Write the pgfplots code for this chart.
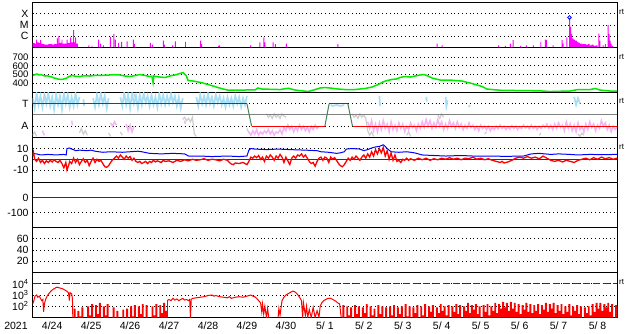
\documentclass[border=0pt]{standalone}
\usepackage{pgfplots}
\pgfplotsset{compat=1.18}
\usepackage{fontspec}
\setmainfont{Liberation Sans}
\definecolor{xmag}{RGB}{255,0,255}
\definecolor{swgreen}{RGB}{0,235,0}
\definecolor{ltblue}{RGB}{165,222,245}
\definecolor{ltpink}{RGB}{245,180,245}
\definecolor{ltgray}{RGB}{205,205,205}
\definecolor{secgreen}{RGB}{70,130,90}
\definecolor{secblue}{RGB}{40,40,255}
\definecolor{dkred}{RGB}{170,0,0}
\pgfplotsset{
 panel/.style={
  scale only axis, width=584.3pt, height=45pt, anchor=north west,
  xmin=0, xmax=15, xtick=\empty, minor xtick={1,...,14}, xminorgrids, ymajorgrids,
  major tick length=0pt, minor tick length=0pt,
  axis line style={black, line width=0.9pt},
  grid style={black, line width=0.9pt, dash pattern=on 0.9pt off 2.9pt},
  minor grid style={black, line width=0.9pt, dash pattern=on 0.9pt off 2.9pt},
  tick label style={font=\fontsize{10.5}{12}\selectfont},
  yticklabel style={inner sep=0pt, xshift=-4pt},
  unbounded coords=jump,
 }
}
\begin{document}
\begin{tikzpicture}
\useasboundingbox (0,0) rectangle (633pt,-334pt);
% Panel 1: X-ray
\begin{axis}[panel, at={(32.7pt,-2.5pt)}, ymin=0, ymax=4, ytick={1,2,3}, yticklabels={C,M,X}]
\addplot[xmag, fill=xmag, const plot, draw=none] coordinates {
(0,0.4)(0.05,0.35)(0.085,0.7)(0.11,0.45)(0.15,0.4)(0.19,0.65)(0.215,0.35)(0.25,0.3)(0.3,0.25)(0.4,0.3)(0.5,0.25)(0.55,0.3)(0.62,0.8)(0.645,0.35)(0.66,1.0)(0.685,0.4)(0.74,0.7)(0.765,0.35)(0.87,0.7)(0.895,0.4)(0.96,0.9)(0.985,0.45)(1.04,1.54)(1.065,0.45)(1.09,0.9)(1.115,0.35)(1.13,0.35)(1.16,0)
(1.43,0.2)(1.455,0)(1.51,0.15)(1.535,0)(1.68,0.7)(1.705,0)(1.73,0.35)(1.755,0)(1.8,0.2)(1.825,0)(1.98,0.95)(2.005,0)(2.07,1.2)(2.095,0)(2.11,0.7)(2.135,0)(2.19,0.4)(2.215,0)(2.27,0.5)(2.295,0)(2.41,0.55)(2.435,0)(2.57,0.7)(2.595,0.3)(2.62,0)
(3.01,0.4)(3.035,0)(3.06,0.25)(3.085,0)(3.34,0.6)(3.365,0.25)(3.39,0)(3.58,0.2)(3.605,0)(3.65,0.55)(3.675,0)(3.91,0.5)(3.935,0)(4.3,0.6)(4.325,0.3)(4.35,0)(4.76,0.15)(4.785,0.2)(4.81,0)
(5.58,0.2)(5.605,0)(5.82,0.45)(5.845,0)(5.92,0.9)(5.945,0.45)(5.97,0)(6.16,0.45)(6.185,0)(6.22,0.3)(6.245,0)(6.5,0.35)(6.525,0)(7.82,0.3)(7.845,0)
(10.37,0.35)(10.395,0)(10.5,0.2)(10.525,0)(11.95,0.2)(11.975,0)(12.12,0.15)(12.145,0)(12.25,0.35)(12.275,0)(12.32,0.65)(12.345,0)(12.51,0.15)(12.535,0)(12.66,0.2)(12.685,0)(12.84,0.2)(12.865,0)
(13.03,0.5)(13.055,0)(13.15,0.7)(13.175,0.65)(13.2,0)(13.35,0.2)(13.375,0)(13.58,0.65)(13.605,0.35)(13.63,0)(13.7,0.9)(13.725,0)
(13.77,2.58)(13.795,1.83)(13.82,1.2)(13.85,0.8)(13.88,0.7)(13.92,0.6)(13.97,0.5)(14.01,0.4)(14.05,0.35)(14.1,0.3)(14.15,0.3)(14.2,0.25)(14.25,0.3)(14.3,0.2)(14.35,0.25)(14.4,0.15)(14.45,0.2)(14.5,0)
(14.52,1.24)(14.545,0.6)(14.57,0)(14.63,0.2)(14.655,0)(14.69,0.3)(14.715,0)(14.76,1.98)(14.785,1.2)(14.81,0.6)(14.835,0.35)(14.86,0.15)(14.9,0)(15,0)} \closedcycle;
\addplot[blue, only marks, mark=o, mark size=1.8pt, mark options={line width=0.8pt}] coordinates {(13.78,2.67)};
\end{axis}
% Panel 2: solar wind speed
\begin{axis}[panel, at={(32.7pt,-47.5pt)}, ymin=293, ymax=812, ytick={400,500,600,700}, yticklabels={400,500,600,700},
  yticklabel style={font=\fontsize{9.5}{10}\selectfont}]
\addplot[swgreen, line width=1.5pt] coordinates {
(0.01,489)(0.06,500)(0.11,506)(0.16,495)(0.21,500)(0.27,490)(0.32,483)(0.38,485)(0.44,477)(0.5,470)(0.55,460)(0.6,455)(0.65,448)(0.7,445)(0.75,443)(0.8,450)(0.85,454)(0.93,477)(1.01,489)(1.1,480)(1.21,477)(1.3,485)(1.47,483)(1.6,490)(1.73,489)(1.85,492)(1.98,495)(2.1,498)(2.24,495)(2.37,483)(2.5,477)(2.63,489)(2.75,500)(2.88,489)(3.01,477)(3.06,480)(3.09,408)(3.11,483)(3.2,475)(3.27,471)(3.4,466)(3.52,483)(3.65,495)(3.78,512)(3.86,523)(3.94,489)(3.99,431)(4.12,425)(4.25,414)(4.37,402)(4.5,385)(4.63,368)(4.76,350)(4.89,333)(5.01,321)(5.32,321)(5.71,323)(5.78,345)(5.89,333)(6.09,330)(6.35,327)(6.56,342)(6.74,321)(6.86,315)(7.07,304)(7.25,327)(7.38,345)(7.5,350)(7.63,345)(7.84,333)(8.02,327)(8.27,327)(8.53,339)(8.71,356)(8.87,385)(8.99,414)(9.1,431)(9.22,443)(9.33,448)(9.43,466)(9.56,477)(9.69,471)(9.82,483)(9.94,495)(10.05,500)(10.15,483)(10.25,460)(10.46,437)(10.71,437)(10.85,431)(11.02,425)(11.23,402)(11.41,379)(11.54,362)(11.66,333)(11.79,327)(12.0,319)(12.51,315)(13.02,312)(13.28,304)(13.79,310)(14.0,327)(14.31,327)(14.44,339)(14.57,321)(14.82,310)(15.0,308)};
\end{axis}
% Panel 3: IMF sector
\begin{axis}[panel, at={(32.7pt,-92.5pt)}, ymin=-2, ymax=2, ytick={-1,1}, yticklabels={A,T}]
\addplot[ltblue, line width=1.7pt] coordinates {
(0,1.5)(0.05,0.6)(0.1,1.9)(0.15,0.9)(0.2,1.7)(0.25,0.7)(0.3,1.8)(0.35,1.0)(0.4,1.95)(0.45,0.8)(0.5,1.6)(0.55,0.5)(0.6,1.8)(0.65,0.9)(0.7,1.7)(0.75,0.5)(0.8,1.9)(0.85,1.0)(0.9,1.8)(0.95,0.7)(1.0,1.6)(1.05,0.8)(1.1,1.9)(1.15,0.9)(1.2,1.6)(1.22,nan)
(1.3,1.4)(1.32,0.8)(1.34,nan)
(1.55,1.5)(1.6,0.7)(1.65,1.8)(1.7,0.9)(1.75,1.9)(1.8,1.0)(1.85,1.7)(1.9,0.6)(1.95,1.5)(1.97,nan)
(2.25,1.6)(2.3,0.8)(2.35,1.95)(2.4,0.9)(2.45,1.8)(2.5,0.6)(2.55,1.9)(2.6,1.0)(2.65,1.7)(2.7,0.6)(2.75,1.8)(2.8,0.9)(2.85,1.9)(2.9,1.1)(2.95,1.7)(3.0,0.8)(3.05,1.8)(3.1,0.9)(3.15,1.6)(3.2,0.7)(3.25,1.9)(3.3,1.0)(3.35,1.8)(3.4,0.9)(3.45,1.7)(3.5,1.0)(3.55,1.9)(3.6,1.1)(3.65,1.7)(3.7,0.8)(3.75,1.6)(3.8,0.6)(3.85,1.5)(3.87,nan)
(4.2,1.6)(4.25,0.8)(4.3,1.8)(4.35,1.0)(4.4,1.7)(4.45,0.9)(4.5,1.9)(4.55,1.0)(4.6,1.6)(4.65,0.8)(4.7,1.8)(4.75,1.1)(4.8,1.7)(4.85,0.9)(4.9,1.5)(4.95,0.7)(5.0,1.6)(5.05,0.9)(5.1,1.5)(5.15,0.8)(5.2,1.7)(5.25,1.0)(5.3,1.6)(5.35,0.7)(5.4,1.5)(5.45,0.9)(5.5,1.7)(5.52,nan)
(7.65,0.9)(7.7,0.8)(7.8,0.9)(7.9,0.8)(8.0,0.9)(8.02,nan)(8.9,1.7)(8.92,0.8)(8.94,nan)(10.1,1.6)(10.12,1.2)(10.14,nan)(10.6,1.6)(10.62,0.8)(10.65,1.3)(10.67,nan)(11.2,0.7)(11.22,0.9)(11.24,nan)(13.9,1.6)(13.95,0.9)(14.0,1.5)(14.05,1.0)};
\addplot[ltgray, line width=1.2pt] coordinates {
(0.0,-1.8)(0.05,-1.5)(0.1,-1.9)(0.12,nan)(0.3,1.9)(0.32,1.6)(0.34,nan)(1.2,-1.6)(1.25,-1.2)(1.3,-1.7)(1.35,-1.4)(1.4,-1.8)(1.42,nan)(1.95,-1.6)(2.0,-1.9)(2.02,nan)(2.25,-1.5)(2.3,-1.8)(2.32,nan)(2.6,1.9)(2.62,1.6)(2.64,nan)
(3.85,-0.4)(3.9,-0.2)(3.95,-0.5)(4.0,-0.3)(4.05,-0.6)(4.1,-0.2)(4.15,-1.7)(4.2,-1.9)(4.22,nan)(5.5,-1.2)(5.55,-1.6)(5.57,nan)
(6.0,0.1)(6.05,-0.2)(6.1,0.0)(6.15,-0.3)(6.2,0.1)(6.25,-0.2)(6.3,0.0)(6.35,-0.3)(6.4,0.1)(6.45,-0.1)(6.5,-0.2)(6.52,nan)
(8.2,0.1)(8.25,-0.2)(8.3,0.0)(8.35,-0.3)(8.4,0.1)(8.45,-0.2)(8.5,0.0)(8.55,-0.3)(8.6,-1.4)(8.65,-1.8)(8.7,-1.5)(8.75,-1.9)(8.77,nan)
(9.6,-1.8)(9.65,-1.5)(9.7,-1.9)(9.72,nan)(10.4,0.0)(10.45,-0.3)(10.5,0.1)(10.55,-0.2)(10.57,nan)(11.6,-1.7)(11.65,-1.5)(11.67,nan)(13.0,-1.8)(13.05,-1.6)(13.07,nan)(14.0,-1.7)(14.05,-1.9)(14.1,-1.6)(14.15,-1.8)};
\addplot[ltpink, line width=1.5pt] coordinates {
(0.25,-1.4)(0.3,-1.8)(0.32,nan)(1.0,-0.5)(1.02,-0.9)(1.04,nan)(2.0,-0.7)(2.05,-1.0)(2.1,-0.6)(2.15,-0.9)(2.17,nan)(2.4,-0.8)(2.45,-1.4)(2.5,-0.9)(2.55,-1.5)(2.6,-1.0)(2.62,nan)(3.9,-0.5)(3.92,-0.8)(3.94,nan)
(5.55,-1.5)(5.6,-1.8)(5.65,-1.4)(5.7,-1.7)(5.75,-1.3)(5.8,-1.8)(5.85,-1.5)(5.9,-1.7)(5.95,-1.4)(6.0,-1.6)(6.05,-1.3)(6.1,-1.7)(6.15,-1.4)(6.2,-1.8)(6.25,-1.5)(6.3,-1.6)(6.35,-1.3)(6.4,-1.7)(6.45,-1.1)(6.5,-1.4)(6.55,-0.9)(6.6,-1.3)(6.65,-1.0)(6.7,-1.5)(6.75,-1.1)(6.8,-1.4)(6.85,-0.9)(6.9,-1.3)(6.95,-1.0)(7.0,-1.4)(7.05,-1.1)(7.1,-1.5)(7.15,-1.0)(7.2,-1.3)(7.25,-0.9)(7.3,-1.2)(7.35,-1.0)(7.37,nan)
(8.6,-0.6)(8.65,-1.2)(8.7,-0.5)(8.75,-1.4)(8.8,-0.8)(8.85,-1.5)(8.9,-0.7)(8.95,-1.3)(9.0,-0.5)(9.05,-1.2)(9.1,-0.8)(9.15,-1.5)(9.2,-0.6)(9.25,-1.3)(9.3,-0.9)(9.35,-1.4)(9.4,-0.7)(9.45,-1.2)(9.5,-0.8)(9.55,-1.5)(9.6,-1.0)(9.65,-1.3)(9.7,-0.7)(9.75,-1.1)(9.8,-0.9)(9.85,-1.4)(9.9,-0.8)(9.95,-1.2)(10.0,-0.6)(10.05,-1.1)(10.1,-0.4)(10.15,-1.0)(10.2,-0.5)(10.25,-1.2)(10.3,-0.7)(10.35,-1.1)(10.4,-0.4)(10.45,-1.0)(10.5,-0.6)(10.55,-1.3)(10.6,-0.8)(10.65,-1.2)(10.7,-0.5)(10.75,-1.0)(10.8,-0.7)(10.85,-1.2)(10.9,-0.6)(10.95,-1.1)(11.0,-0.8)(11.05,-1.3)(11.1,-0.9)(11.15,-1.2)(11.2,-0.7)(11.25,-1.1)(11.3,-0.9)(11.35,-1.3)(11.4,-1.0)(11.45,-1.4)(11.5,-0.9)(11.55,-1.2)(11.6,-1.0)(11.65,-1.3)(11.7,-1.0)(11.75,-1.4)(11.8,-1.1)(11.85,-1.3)(11.9,-1.0)(11.95,-1.25)(12.0,-0.9)(12.05,-1.2)(12.1,-1.0)(12.15,-1.3)(12.2,-1.05)(12.25,-1.25)(12.3,-0.95)(12.35,-1.2)(12.4,-1.0)(12.45,-1.3)(12.5,-1.05)(12.55,-1.2)(12.6,-0.9)(12.65,-1.15)(12.7,-1.0)(12.75,-1.25)(12.8,-0.9)(12.85,-1.2)(12.9,-1.0)(12.95,-1.3)(13.0,-1.0)(13.05,-1.2)(13.1,-0.9)(13.15,-1.1)(13.2,-0.8)(13.25,-1.2)(13.3,-0.9)(13.35,-1.3)(13.4,-0.8)(13.45,-1.2)(13.5,-0.7)(13.55,-1.1)(13.6,-0.9)(13.65,-1.4)(13.7,-0.6)(13.75,-1.2)(13.8,-0.8)(13.85,-1.4)(13.9,-0.9)(13.95,-1.5)(14.0,-0.7)(14.05,-1.3)(14.1,-1.0)(14.15,-1.5)(14.2,-0.8)(14.25,-1.3)(14.3,-0.6)(14.35,-1.1)(14.4,-0.8)(14.45,-1.4)(14.5,-0.9)(14.55,-1.2)(14.6,-0.5)(14.65,-1.0)(14.7,-0.7)(14.75,-1.3)(14.8,-0.9)(14.85,-1.5)(14.9,-1.0)(14.95,-1.3)(15.0,-1.1)};
\addplot[gray, line width=1pt] coordinates {(0,0)(15,0)};
\addplot[secblue, line width=1pt] coordinates {(0,1)(5.50,1)};
\addplot[secgreen, line width=1pt] coordinates {(5.50,1)(5.62,-1)};
\addplot[red, line width=1pt] coordinates {(5.62,-1)(7.50,-1)};
\addplot[secgreen, line width=1pt] coordinates {(7.50,-1)(7.61,1)};
\addplot[secblue, line width=1pt] coordinates {(7.61,1)(8.09,1)};
\addplot[secgreen, line width=1pt] coordinates {(8.09,1)(8.21,-1)};
\addplot[red, line width=1pt] coordinates {(8.21,-1)(15,-1)};
\end{axis}
% Panel 4: Bz / Bt
\begin{axis}[panel, at={(32.7pt,-137.5pt)}, ymin=-21.7, ymax=20.3, ytick={-10,0,10}, yticklabels={-10,0,10}]
\addplot[dkred, line width=0.9pt] coordinates {(0,0)(15,0)};
\addplot[blue, line width=1pt] coordinates {
(0,5.3)(0.1,5)(0.2,4)(0.4,4.5)(0.6,4)(0.8,4.5)(0.86,4)(0.88,10)(0.95,10.5)(1.0,9.5)(1.05,9)(1.1,8)(1.2,8.5)(1.4,8)(1.5,8.5)(1.6,7.5)(1.7,7)(1.8,6.5)(2.0,7)(2.3,6.5)(2.5,7)(2.7,7.5)(2.8,7)(3.0,5.5)(3.3,5)(3.6,5.5)(3.9,5)(4.0,3)(4.3,3)(4.6,2.5)(5.0,3)(5.3,2.5)(5.5,3)(5.55,8.5)(5.6,10)(5.7,9.5)(6.0,9)(6.3,9.5)(6.6,9)(7.0,8.5)(7.3,8)(7.4,7)(7.6,6.5)(7.8,5.5)(7.9,6)(8.0,7)(8.05,9.5)(8.2,10)(8.4,9.5)(8.5,8)(8.6,9)(8.7,10.5)(8.8,11.5)(8.9,12)(9.0,13.5)(9.05,12)(9.1,10)(9.2,7)(9.4,6.5)(9.6,7)(9.8,6)(10.0,4)(10.3,3.5)(10.6,3)(11.0,3.5)(11.3,3)(11.6,3)(12.0,2.8)(12.3,2.8)(12.6,3)(12.8,5)(13.0,5.5)(13.3,4.5)(13.5,5)(13.8,4.5)(14.0,4)(14.3,4.5)(14.6,4.3)(15,4.5)};
\addplot[red, line width=1.3pt] coordinates {
(0.00,3)(0.02,6.5)(0.05,0)(0.1,-2)(0.15,1)(0.2,-3)(0.25,-1)(0.3,-4)(0.35,-1.5)(0.4,-3)(0.45,-1)(0.5,-2.5)(0.55,-0.5)(0.6,-2)(0.65,-3)(0.7,-1)(0.75,-4)(0.8,-8)(0.85,-3)(0.88,-10)(0.92,-6)(0.95,-2)(1.0,-4)(1.05,1)(1.1,-3)(1.15,0)(1.2,-5)(1.25,-2)(1.3,0.5)(1.35,-3)(1.4,-1)(1.45,-6)(1.5,-2)(1.55,1)(1.6,-3)(1.65,0)(1.7,-2)(1.75,-1)(1.8,-4)(1.85,-7)(1.9,-7.5)(1.95,-6)(2.0,-3)(2.05,-0.5)(2.1,1)(2.15,3)(2.2,1)(2.25,4)(2.3,2)(2.35,0)(2.4,3)(2.45,1)(2.5,2.5)(2.55,-1)(2.6,1)(2.65,-2)(2.7,-3)(2.75,-2)(2.8,-4)(2.85,-3)(2.9,-2)(2.95,-4)(3.0,-2)(3.05,-3)(3.1,-1)(3.15,-2.5)(3.2,-1.5)(3.3,-3)(3.35,-1)(3.4,-2)(3.5,-1.5)(3.6,-3)(3.7,-1)(3.8,-2)(3.9,-0.5)(4.0,-1.5)(4.1,0)(4.2,-1)(4.3,-0.5)(4.4,0.5)(4.5,-1)(4.6,0)(4.7,-0.5)(4.8,-1.5)(4.9,0)(5.0,-1)(5.05,-3)(5.1,-4.5)(5.15,-5)(5.2,-3.5)(5.3,-4)(5.4,-3)(5.5,-5)(5.55,-2)(5.6,2)(5.65,1)(5.7,3)(5.75,1.5)(5.8,3.5)(5.85,0)(5.9,2)(5.95,-2)(6.0,3)(6.05,1)(6.1,4)(6.15,2)(6.2,-1)(6.25,3)(6.3,1)(6.35,4.5)(6.4,2)(6.45,-3)(6.5,2)(6.6,-5)(6.65,1)(6.7,3)(6.75,1)(6.8,4)(6.85,3)(6.9,5)(6.95,2)(7.0,4)(7.05,1)(7.1,-2)(7.15,-4)(7.2,-3)(7.25,-6.5)(7.3,-2)(7.35,1)(7.4,2)(7.45,-1)(7.5,2)(7.55,1)(7.6,-3)(7.65,2)(7.7,0)(7.75,1.5)(7.8,-1)(7.85,-4)(7.9,-6)(7.95,-7)(8.0,-5)(8.05,-2)(8.1,1)(8.15,-1)(8.2,2)(8.25,0)(8.3,3)(8.35,1)(8.4,-1)(8.45,2)(8.5,4)(8.55,1)(8.6,5)(8.65,2)(8.7,7)(8.75,3)(8.8,9)(8.85,5)(8.9,10)(8.95,6)(9.0,11)(9.05,3)(9.1,8)(9.15,0)(9.2,6)(9.25,-1)(9.3,4)(9.35,-2)(9.4,-1)(9.45,-3)(9.5,0)(9.55,-1)(9.6,1)(9.65,-1)(9.7,0.5)(9.8,-1)(9.9,1)(10.0,-0.5)(10.1,1)(10.2,-1)(10.3,0.5)(10.4,-0.5)(10.5,1)(10.6,0)(10.7,1.5)(10.8,0)(10.9,1)(11.0,-0.5)(11.1,1)(11.2,0.5)(11.3,2)(11.4,0)(11.5,1)(11.6,-0.5)(11.7,0.5)(11.8,-1)(11.9,-2)(12.0,-3)(12.05,-2)(12.1,-3.5)(12.2,-2.5)(12.3,-1)(12.35,0)(12.4,1)(12.5,2)(12.6,1)(12.7,2.5)(12.8,1)(12.9,2)(13.0,0.5)(13.05,1.5)(13.1,3)(13.2,1)(13.3,-1)(13.4,-2)(13.5,-1)(13.6,-2.5)(13.7,-1)(13.8,-2)(13.9,-3)(14.0,-1)(14.1,0)(14.2,1)(14.3,-0.5)(14.4,1.5)(14.5,0)(14.6,2)(14.7,0.5)(14.8,1.5)(14.9,0)(15.0,1)};
\end{axis}
% Panel 5: Dst
\begin{axis}[panel, at={(32.7pt,-182.5pt)}, ymin=-200, ymax=100, ytick={-100,0}, yticklabels={-100,0}]
\addplot[dkred, line width=0.9pt] coordinates {(0,0)(15,0)};
\end{axis}
% Panel 6
\begin{axis}[panel, at={(32.7pt,-227.5pt)}, ymin=0, ymax=80, ytick={20,40,60}, yticklabels={20,40,60}]
\end{axis}
% Panel 7: electron flux
\begin{axis}[panel, at={(32.7pt,-272.5pt)}, ymin=1, ymax=5, ytick={2,3,4}, yticklabels={10\textsuperscript{2},10\textsuperscript{3},10\textsuperscript{4}},
  extra x ticks={0.5,1.5,...,14.5}, extra x tick labels={4/24,4/25,4/26,4/27,4/28,4/29,4/30,5/ 1,5/ 2,5/ 3,5/ 4,5/ 5,5/ 6,5/ 7,5/ 8},
  extra x tick style={grid=none, major tick length=0pt, xticklabel style={yshift=-1pt}}]
\addplot[dkred, line width=0.9pt, dash pattern=on 7pt off 3pt] coordinates {(0,4)(15,4)};
\addplot[red, line width=1pt] coordinates {
(0,2.2)(0.03,2.5)(0.06,2.9)(0.1,3.0)(0.13,2.8)(0.17,2.9)(0.2,2.7)(0.23,2.5)(0.26,2.6)(0.28,1.5)(0.3,2.2)(0.33,2.6)(0.37,2.9)(0.42,3.15)(0.47,3.35)(0.52,3.5)(0.57,3.6)(0.62,3.7)(0.67,3.65)(0.72,3.6)(0.77,3.55)(0.82,3.45)(0.87,3.35)(0.92,3.2)(0.94,2.5)(0.96,3.2)(1.0,3.1)(1.02,2.7)(1.03,1.0)(1.04,nan)
(3.45,2.5)(3.5,2.6)(3.55,2.5)(3.6,2.7)(3.65,2.55)(3.7,2.65)(3.75,2.5)(3.8,2.6)(3.85,2.7)(3.9,2.55)(3.95,2.6)(4.0,2.5)(4.03,2.6)(4.05,1.0)(4.07,2.6)(4.1,2.7)(4.2,2.75)(4.3,2.8)(4.4,2.85)(4.5,2.95)(4.6,3.0)(4.65,2.9)(4.7,2.95)(4.8,2.85)(4.9,2.8)(5.0,2.75)(5.05,2.85)(5.1,2.7)(5.2,2.8)(5.3,2.85)(5.4,2.8)(5.5,2.9)(5.6,3.0)(5.65,2.9)(5.7,2.85)(5.75,2.7)(5.8,2.5)(5.85,2.3)(5.88,1.5)(5.9,2.2)(5.93,1.3)(5.96,2.0)(6.0,1.0)(6.03,1.8)(6.06,1.0)(6.07,nan)
(6.3,1.0)(6.32,1.8)(6.35,1.2)(6.4,2.5)(6.45,2.8)(6.5,3.0)(6.55,3.1)(6.6,3.2)(6.65,3.3)(6.68,3.35)(6.72,3.3)(6.76,3.2)(6.8,3.05)(6.85,2.8)(6.9,2.5)(6.93,1.0)(6.95,2.3)(7.0,1.2)(7.03,2.0)(7.06,1.0)(7.1,1.7)(7.15,1.0)(7.2,1.9)(7.25,1.0)(7.3,1.6)(7.35,1.0)
(7.38,2.0)(7.42,2.3)(7.47,2.5)(7.52,2.6)(7.58,2.7)(7.63,2.72)(7.68,2.65)(7.73,2.55)(7.78,2.45)(7.83,2.3)(7.88,2.2)(7.92,1.0)};
\addplot[red, fill=red, const plot, draw=none] coordinates {
(1.05,1.8)(1.1,1.0)(1.15,1.6)(1.2,1.1)(1.25,1.9)(1.3,1.0)(1.35,1.0)(1.4,2.0)(1.45,1.2)(1.5,2.2)(1.55,1.0)(1.6,2.1)(1.65,1.3)(1.7,2.3)(1.75,1.0)(1.8,2.0)(1.85,1.2)(1.9,2.2)(1.95,1.0)(2.0,1.0)(2.05,1.9)(2.1,1.0)(2.15,1.6)(2.2,1.0)(2.25,1.0)(2.3,1.7)(2.35,1.0)(2.4,1.8)(2.45,1.0)(2.5,2.0)(2.55,1.1)(2.6,2.1)(2.65,1.0)(2.7,2.0)(2.75,1.3)(2.8,2.2)(2.85,1.0)(2.9,2.1)(2.95,1.0)(3.0,1.0)(3.05,2.0)(3.1,1.2)(3.15,2.2)(3.2,1.0)(3.25,2.1)(3.3,1.4)(3.35,2.3)(3.4,1.6)(3.45,2.5)(3.47,2.5)} \closedcycle;
\addplot[red, fill=red, const plot, draw=none] coordinates {
(7.95,2.1)(8.0,1.0)(8.05,2.0)(8.1,1.2)(8.15,1.9)(8.2,1.0)(8.25,2.1)(8.3,1.3)(8.35,2.0)(8.4,1.0)(8.45,1.9)(8.5,1.4)(8.55,2.2)(8.6,1.0)(8.65,2.0)(8.7,1.2)(8.75,1.8)(8.8,1.0)(8.85,2.1)(8.9,1.3)(8.95,2.0)(9.0,1.0)(9.05,1.9)(9.1,1.0)(9.15,2.0)(9.2,1.2)(9.25,2.1)(9.3,1.0)(9.35,1.9)(9.4,1.3)(9.45,2.0)(9.5,1.0)(9.55,2.2)(9.6,1.1)(9.65,2.0)(9.7,1.0)(9.75,1.9)(9.8,1.4)(9.85,2.1)(9.9,1.0)(9.95,2.0)(10.0,1.2)(10.05,2.2)(10.1,1.0)(10.15,2.0)(10.2,1.5)(10.25,2.1)(10.3,1.0)(10.35,1.9)(10.4,1.4)(10.45,2.2)(10.5,1.6)(10.55,2.0)(10.6,1.2)(10.65,2.1)(10.7,1.0)(10.75,2.0)(10.8,1.5)(10.85,2.2)(10.9,1.3)(10.95,2.1)(11.0,1.0)(11.05,2.0)(11.1,1.6)(11.15,2.3)(11.2,1.4)(11.25,2.1)(11.3,1.7)(11.35,2.2)(11.4,1.3)(11.45,2.0)(11.5,1.0)(11.55,2.1)(11.6,1.5)(11.65,2.2)(11.7,1.2)(11.75,2.0)(11.8,1.6)(11.85,2.3)(11.9,1.4)(11.95,2.2)(12.0,1.8)(12.05,2.4)(12.1,1.9)(12.15,2.3)(12.2,1.6)(12.25,2.4)(12.3,1.8)(12.35,2.3)(12.4,1.5)(12.45,2.2)(12.5,1.3)(12.55,2.1)(12.6,1.7)(12.65,2.3)(12.7,1.5)(12.75,2.2)(12.8,1.4)(12.85,2.1)(12.9,1.6)(12.95,2.2)(13.0,1.3)(13.05,2.1)(13.1,1.7)(13.15,2.3)(13.2,1.5)(13.25,2.2)(13.3,1.8)(13.35,2.3)(13.4,1.4)(13.45,2.1)(13.5,1.6)(13.55,2.2)(13.6,1.3)(13.65,2.0)(13.7,1.5)(13.75,2.2)(13.8,1.2)(13.85,2.0)(13.9,1.6)(13.95,2.1)(14.0,1.3)(14.05,2.0)(14.1,1.0)(14.15,1.9)(14.2,1.4)(14.25,2.0)(14.3,1.2)(14.35,2.2)(14.4,1.5)(14.45,2.3)(14.5,1.8)(14.55,2.3)(14.6,1.6)(14.65,2.2)(14.7,1.9)(14.75,2.3)(14.8,1.5)(14.85,2.2)(14.9,1.0)(14.95,2.1)(15.0,1.6)} \closedcycle;
\end{axis}
\node[font=\fontsize{10.5}{12}\selectfont] at (16pt,-326pt) {2021};
\foreach \yy in {12,57,101,147,282} {
  \node[anchor=west, font=\fontsize{8}{9}\selectfont, inner sep=0pt] at (619pt,-\yy pt) {rt};
}
\end{tikzpicture}
\end{document}
